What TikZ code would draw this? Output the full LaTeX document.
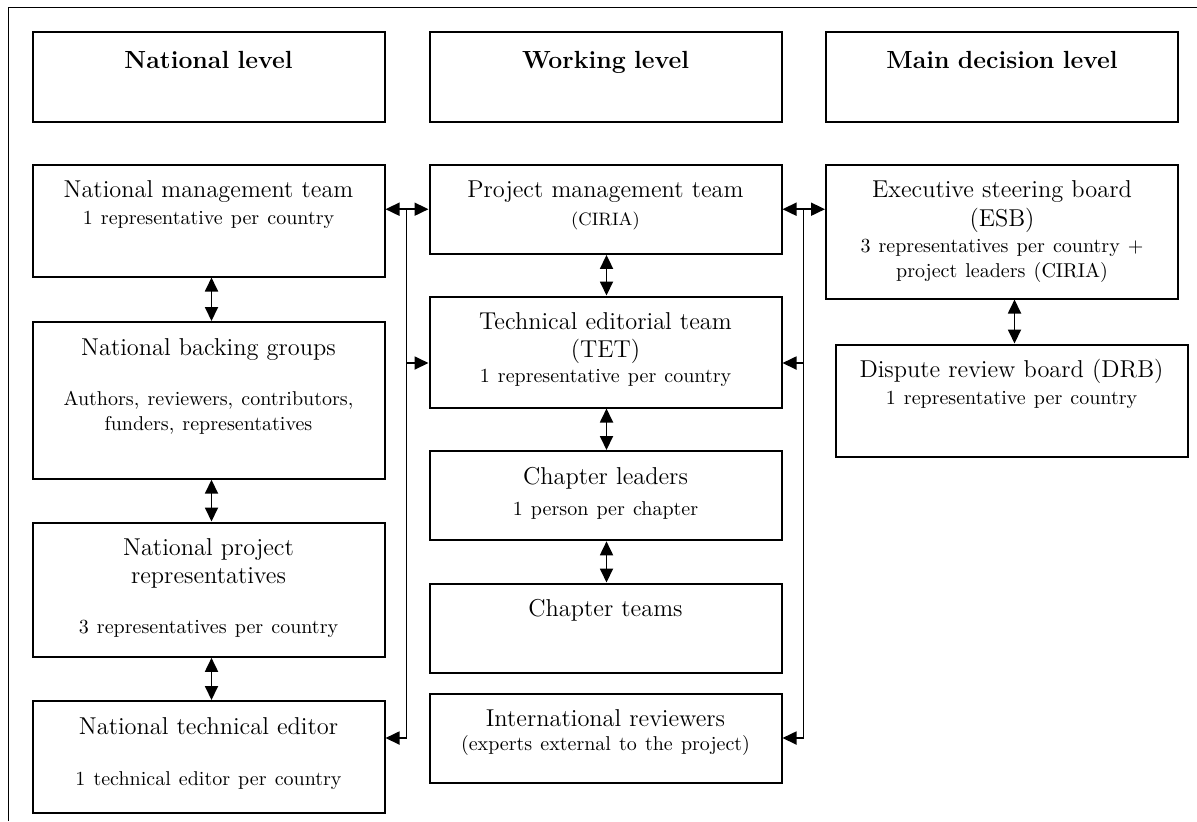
\documentclass[tikz,border=0pt]{standalone}
\usepackage{tikz}
\usetikzlibrary{arrows.meta}
\newcommand{\smalltxt}{\fontsize{10}{12}\selectfont}
\newcommand{\tinytxt}{\fontsize{9}{11}\selectfont}

\begin{document}
\begin{tikzpicture}[x=0.5pt,y=-0.5pt,
    >={Triangle[length=7pt,width=6.5pt]},
    box/.style={draw, line width=1pt, anchor=north west, align=center,
      text width=176pt, inner sep=0pt, text height=16.5pt, text depth=#1,
      font=\fontsize{12.2}{14}\selectfont},
    hdr/.style={box=26.85pt, text height=18pt, font=\fontsize{12.4}{14}\selectfont\bfseries},
    link/.style={line width=0.9pt, ->},
    both/.style={line width=0.9pt, <->}]
	\useasboundingbox (0,0) rectangle (1197,821);
	\draw [line width=0.65pt] (8.5,821) -- (8.5,7.5) -- (1197,7.5);
	% level headings
	\node[hdr] (natl) at (31.5,31) {National level};
	\node[hdr] (work) at (428.5,31) {Working level};
	\node[hdr] (main) at (825,31) {Main decision level};
	% national level
	\node[box=39.5pt] (nmt) at (31.5,163.5) {National management team\\[-0.7pt]{\smalltxt 1 representative per country}};
	\node[box=61.85pt] (nbg) at (31.5,321) {National backing groups\\[11pt]{\smalltxt Authors, reviewers, contributors,}\\[-1.5pt]{\smalltxt funders, representatives}};
	\node[box=50.65pt] (npr) at (31.5,521.5) {National project\\representatives\\[11pt]{\smalltxt 3 representatives per country}};
	\node[box=39.5pt] (nte) at (31.5,700) {National technical editor\\[11.5pt]{\smalltxt 1 technical editor per country}};
	% working level
	\node[box=28.2pt] (pmt) at (428.5,163.5) {Project management team\\{\tinytxt (CIRIA)}};
	\node[box=39pt] (tet) at (428.5,295.5) {Technical editorial team\\(TET)\\[-1.5pt]{\smalltxt 1 representative per country}};
	\node[box=28.15pt] (cl) at (428.5,450) {Chapter leaders\\[1.5pt]{\smalltxt 1 person per chapter}};
	\node[box=28.2pt] (ct) at (428.5,582.5) {Chapter teams};
	\node[box=28pt] (ir) at (428.5,692.5) {International reviewers\\[-2pt]{\smalltxt (experts external to the project)}};
	% main decision level
	\node[box=50.5pt] (esb) at (825,163.5) {Executive steering board\\[0.5pt](ESB)\\[-1pt]{\smalltxt 3 representatives per country +}\\[-1.5pt]{\smalltxt project leaders (CIRIA)}};
	\node[box=39.7pt] (drb) at (834.5,343.5) {Dispute review board (DRB)\\[-0.3pt]{\smalltxt 1 representative per country}};
	% links down the columns
	\draw[both] ([xshift=1.5pt]nmt.south) -- ([xshift=1.5pt]nbg.north);
	\draw[both] ([xshift=1.5pt]nbg.south) -- ([xshift=1.5pt]npr.north);
	\draw[both] ([xshift=1.5pt]npr.south) -- ([xshift=1.5pt]nte.north);
	\draw[both] ([xshift=0.5pt]pmt.south) -- ([xshift=0.5pt]tet.north);
	\draw[both] ([xshift=0.5pt]tet.south) -- ([xshift=0.5pt]cl.north);
	\draw[both] ([xshift=0.5pt]cl.south) -- ([xshift=0.5pt]ct.north);
	\draw[both] ([xshift=1.5pt]drb.north |- esb.south) -- ([xshift=1.5pt]drb.north);
	% links across and the two buses
	\coordinate (lbus) at (406.5,0);
	\coordinate (rbus) at (803.5,0);
	\coordinate (tetl) at ([yshift=-5.5pt]tet.west);
	\coordinate (tetr) at ([yshift=-5.5pt]tet.east);
	\draw[both] (pmt.west -| nmt.east) -- (pmt.west);
	\draw[both] (pmt.east) -- (pmt.east -| esb.west);
	\draw[link] (lbus |- pmt.west) |- (nte.east |- ir.east);
	\draw[link] (lbus |- tetl) -- (tetl);
	\draw[link] (rbus |- pmt.east) |- (ir.east);
	\draw[link] (rbus |- tetr) -- (tetr);
\end{tikzpicture}
\end{document}
